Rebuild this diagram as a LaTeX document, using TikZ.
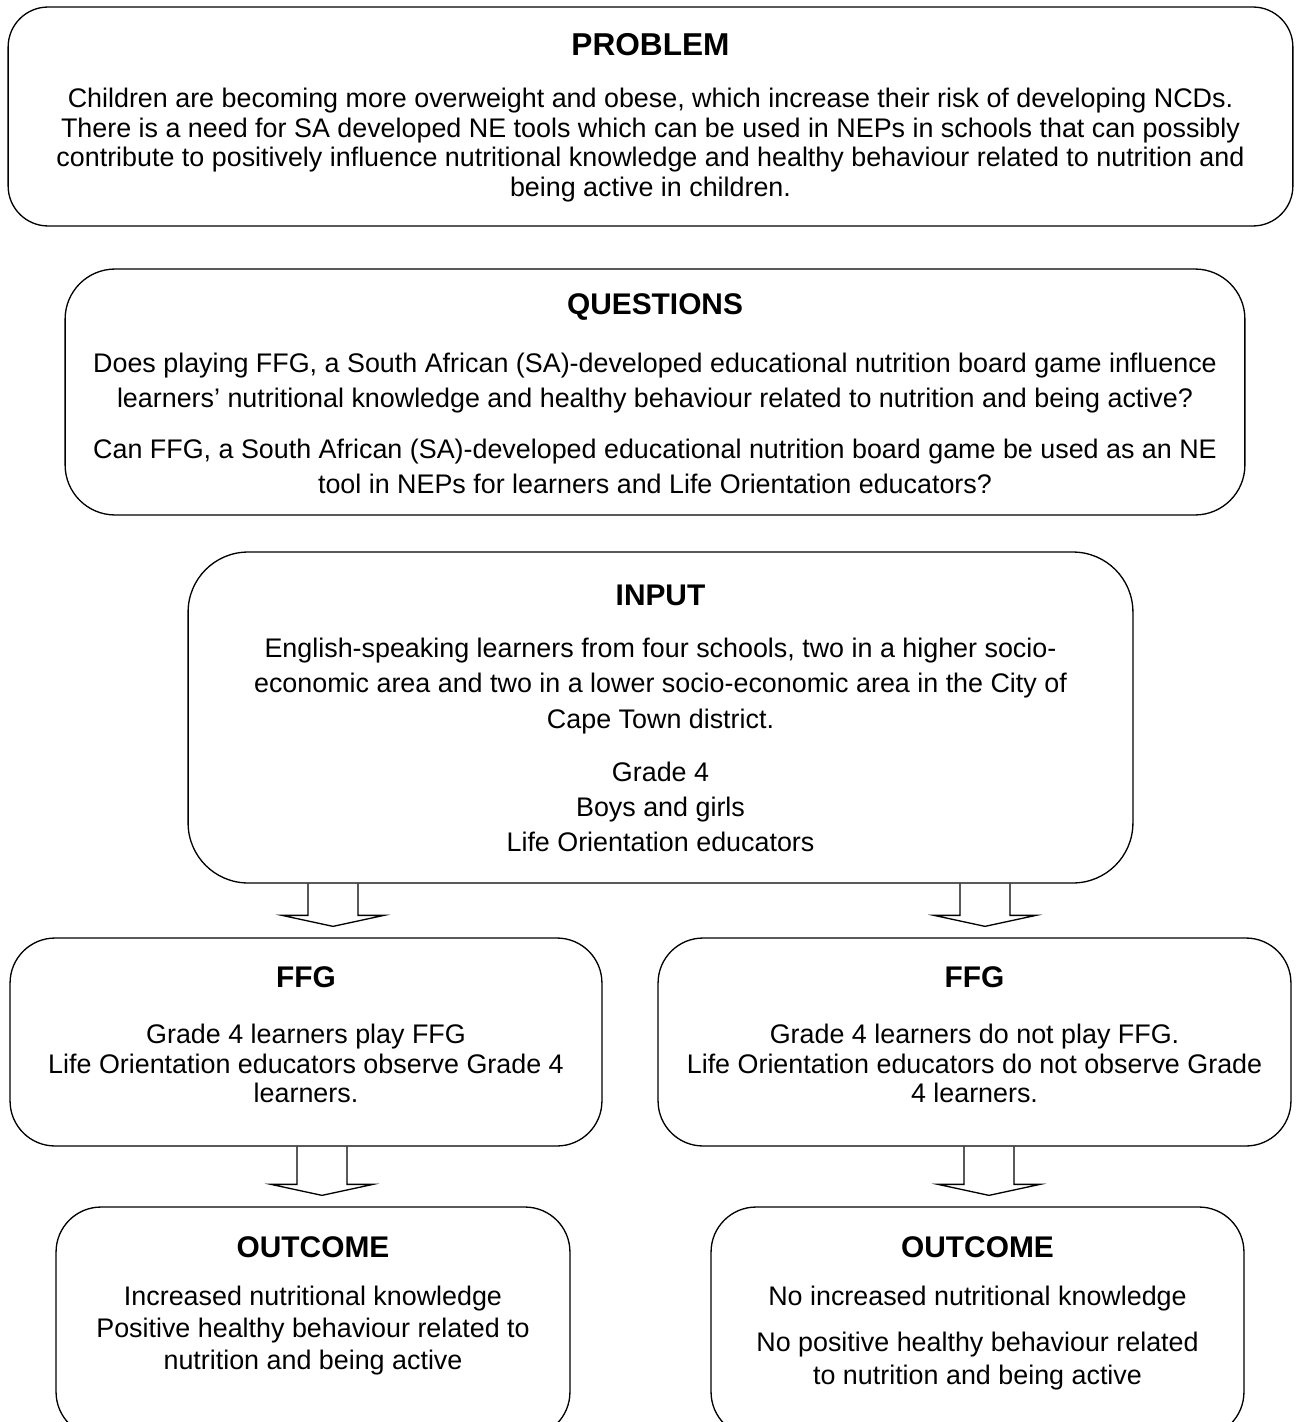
\documentclass[tikz,border=0pt]{standalone}
\usepackage{fontspec}
\setmainfont{Liberation Sans}
\usetikzlibrary{calc}

% hollow block arrow between two boxes: #1 = x of the shaft, #2 = upper box, #3 = lower box
\newcommand{\fatarrow}[3]{%
  \pgfmathsetmacro\shl{#1-25}\pgfmathsetmacro\shr{#1+25}%
  \pgfmathsetmacro\hdl{#1-51}\pgfmathsetmacro\hdr{#1+51}%
  \path (#3.north) ++(0,-22) coordinate (hb);
  \draw[fat] (#2.south -| \shl,0) -- (hb -| \shl,0) -- (hb -| \hdl,0)
    -- ($(hb -| #1,0)+(0,11)$) -- (hb -| \hdr,0) -- (hb -| \shr,0) -- (#2.south -| \shr,0);
}

\begin{document}
\begin{tikzpicture}[
    x=0.02cm, y=-0.02cm,
    box/.style={draw, line width=0.75pt, inner sep=0pt, rounded corners=0.9cm},
    title/.style={font=\fontsize{17}{20}\selectfont\bfseries},
    body/.style={align=center, inner sep=0pt, font=\fontsize{15.3}{17}\selectfont},
    wide/.style={body, font=\fontsize{15.3}{20}\selectfont},
    fat/.style={line width=0.75pt, line join=miter},
  ]
  \useasboundingbox (0,0) rectangle (1295,1422);

  % problem
  \node[box, minimum width=25.7cm, minimum height=4.38cm, rounded corners=0.8cm] (problem) at (650.5,116.5) {};
  \node[title, font=\fontsize{18}{20}\selectfont\bfseries] (problemT) at (650.5,45) {PROBLEM};
  \node[body] (problemB) at (650.5,145) {Children are becoming more overweight and obese, which increase their risk of developing NCDs.\\
    There is a need for SA developed NE tools which can be used in NEPs in schools that can possibly\\
    contribute to positively influence nutritional knowledge and healthy behaviour related to nutrition and\\
    being active in children.};

  % questions
  \node[box, minimum width=23.6cm, minimum height=4.92cm, rounded corners=1cm] (questions) at (655,392) {};
  \node[title] (questionsT) at (655,307) {QUESTIONS};
  \node[wide] (questionsB) at (655,423.5) {Does playing FFG, a South African (SA)-developed educational nutrition board game influence\\
    learners’ nutritional knowledge and healthy behaviour related to nutrition and being active?\\[0.32cm]
    Can FFG, a South African (SA)-developed educational nutrition board game be used as an NE\\
    tool in NEPs for learners and Life Orientation educators?};

  % input
  \node[box, minimum width=18.9cm, minimum height=6.62cm, rounded corners=1.2cm] (input) at (660.5,717.5) {};
  \node[title] (inputT) at (660.5,595) {INPUT};
  \node[wide] (inputB) at (660.5,745) {English-speaking learners from four schools, two in a higher socio-\\
    economic area and two in a lower socio-economic area in the City of\\
    Cape Town district.\\[0.36cm]
    Grade 4\\
    Boys and girls\\
    Life Orientation educators};

  % intervention and control
  \node[box, minimum width=11.84cm, minimum height=4.16cm] (ffgL) at (306,1042) {};
  \node[title] (ffgLT) at (306,977) {FFG};
  \node[body] (ffgLB) at (306,1063.5) {Grade 4 learners play FFG\\
    Life Orientation educators observe Grade 4\\
    learners.};
  \node[box, minimum width=12.66cm, minimum height=4.16cm] (ffgR) at (974.5,1042) {};
  \node[title] (ffgRT) at (974.5,977) {FFG};
  \node[body] (ffgRB) at (974.5,1063.5) {Grade 4 learners do not play FFG.\\
    Life Orientation educators do not observe Grade\\
    4 learners.};

  % outcomes
  \node[box, minimum width=10.28cm, minimum height=4.6cm] (outL) at (313,1322) {};
  \node[title] (outLT) at (313,1247) {OUTCOME};
  \node[body, font=\fontsize{15.3}{18.2}\selectfont] (outLB) at (313,1331) {Increased nutritional knowledge\\
    Positive healthy behaviour related to\\
    nutrition and being active};
  \node[box, minimum width=10.66cm, minimum height=4.6cm] (outR) at (977.5,1322) {};
  \node[title] (outRT) at (977.5,1247) {OUTCOME};
  \node[body, font=\fontsize{15.3}{18.8}\selectfont] (outRB) at (977.5,1338.5) {No increased nutritional knowledge\\[0.26cm]
    No positive healthy behaviour related\\
    to nutrition and being active};

  % block arrows
  \fatarrow{333}{input}{ffgL}
  \fatarrow{985}{input}{ffgR}
  \fatarrow{322}{ffgL}{outL}
  \fatarrow{989}{ffgR}{outR}
\end{tikzpicture}
\end{document}
